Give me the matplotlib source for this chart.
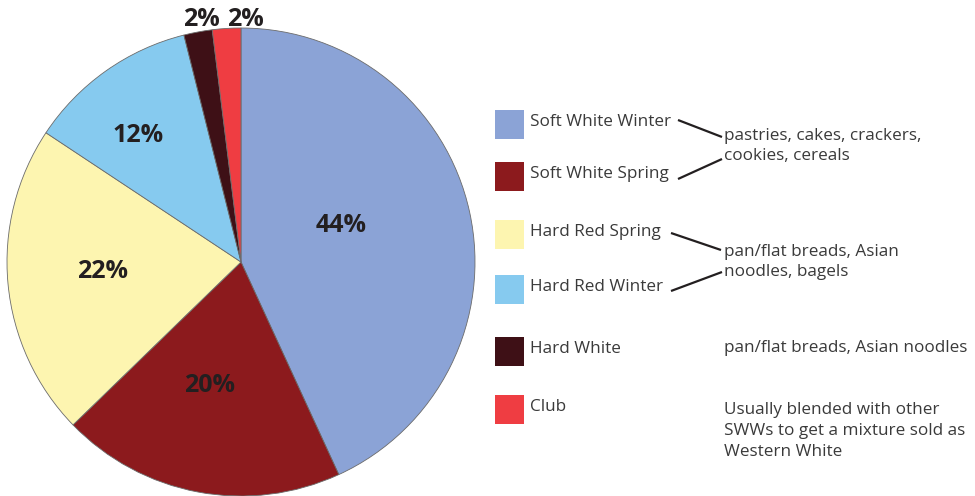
import matplotlib
matplotlib.use('Agg')
import matplotlib.pyplot as plt
from matplotlib.patches import Rectangle

plt.rcParams['font.family'] = ['Open Sans', 'DejaVu Sans']

# wheat classes, share in percent (as printed on the chart)
classes = ['Soft White Winter', 'Soft White Spring', 'Hard Red Spring',
           'Hard Red Winter', 'Hard White', 'Club']
shares = [44, 20, 22, 12, 2, 2]
colors = ['#8ba3d6', '#8c1a1d', '#fdf5b0', '#86caef', '#3e1016', '#ef3d42']
uses = ['pastries, cakes, crackers,\ncookies, cereals',
        'pan/flat breads, Asian\nnoodles, bagels',
        'pan/flat breads, Asian noodles',
        'Usually blended with other\nSWWs to get a mixture sold as\nWestern White']

W, H = 975, 496
fig = plt.figure(figsize=(W / 100, H / 100), dpi=100)

# pie: center (241,262) radius 234 px
cx, cy, r = 241, 262, 234
ax = fig.add_axes([(cx - r) / W, (H - cy - r) / H, 2 * r / W, 2 * r / H])
wedges, _ = ax.pie(shares, colors=colors, startangle=90, counterclock=False,
                   radius=1, wedgeprops=dict(edgecolor='#6b6b6b', linewidth=0.6))
ax.set_xlim(-1, 1)
ax.set_ylim(-1, 1)
ax.set_aspect('equal')
ax.axis('off')

# overlay in pixel coords for labels / legend
ov = fig.add_axes([0, 0, 1, 1], facecolor='none')
ov.set_xlim(0, W)
ov.set_ylim(H, 0)
ov.axis('off')

# percent labels
pct_pos = [(341, 226), (210, 385), (103, 272), (138, 135), (201, 19), (245, 19)]
for s, (x, y) in zip(shares, pct_pos):
    ov.text(x, y, f'{s}%', ha='center', va='center', fontsize=18,
            fontweight='bold', color='#231f20')

# legend boxes and names
box_top = [110, 162, 220, 275, 337, 395]
for c, name, t in zip(colors, classes, box_top):
    ov.add_patch(Rectangle((495, t), 29, 29, facecolor=c, edgecolor='none'))
    ov.text(530, t + 12, name, ha='left', va='center', fontsize=12.3, color='#3a3a3a')

# end uses
use_y = [146, 262, 348, 431]
for txt, y in zip(uses, use_y):
    ov.text(724, y, txt, ha='left', va='center', fontsize=12.3, color='#3a3a3a',
            linespacing=1.4)

# connector lines
links = [((678, 120), (722, 137)), ((678, 179), (722, 159)),
         ((671, 233), (721, 250)), ((671, 291), (722, 272))]
for (x0, y0), (x1, y1) in links:
    ov.plot([x0, x1], [y0, y1], color='#231f20', lw=1.6, solid_capstyle='butt')

fig.savefig('out.png', dpi=100)
